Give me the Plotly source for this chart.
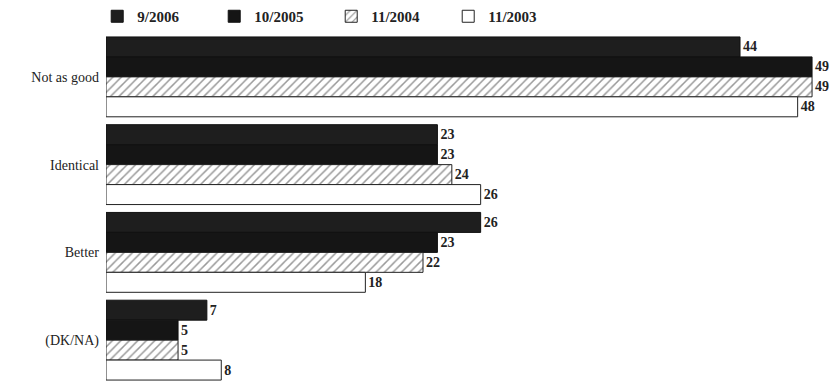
import plotly.graph_objects as go

categories = ["Not as good", "Identical", "Better", "(DK/NA)"]
series_names = ["9/2006", "10/2005", "11/2004", "11/2003"]
v_2006 = [44, 23, 26, 7]
v_2005 = [49, 23, 23, 5]
v_2004 = [49, 24, 22, 5]
v_2003 = [48, 26, 18, 8]

values = [v_2006, v_2005, v_2004, v_2003]
styles = [
    dict(color="#1e1e1e", line=dict(color="#111111", width=1)),
    dict(color="#151515", line=dict(color="#111111", width=1)),
    dict(color="white", line=dict(color="#222222", width=1),
         pattern=dict(shape="/", fgcolor="#333333", bgcolor="white", size=6, solidity=0.25)),
    dict(color="white", line=dict(color="#222222", width=1)),
]

fig = go.Figure()
for name, vals, st in zip(series_names, values, styles):
    fig.add_trace(go.Bar(
        y=categories, x=vals, name=name, orientation="h",
        marker=st, text=["<b>%d</b>" % v for v in vals], textposition="outside",
        textfont=dict(family="Liberation Serif", size=14, color="#222222"),
        cliponaxis=False,
    ))

fig.update_layout(
    width=838, height=384,
    margin=dict(l=106, r=0, t=33, b=0),
    paper_bgcolor="white", plot_bgcolor="white",
    barmode="group", bargap=0.09, bargroupgap=0,
    font=dict(family="Liberation Serif", size=13, color="#222222"),
    legend=dict(orientation="h", x=-0.012, xanchor="left", y=1.0, yanchor="bottom",
                entrywidth=72, font=dict(family="Liberation Serif", size=15, color="#222222", weight="bold"),
                itemwidth=30, traceorder="normal"),
    xaxis=dict(range=[0, 50.8], visible=False, showgrid=False),
    yaxis=dict(autorange="reversed", showgrid=False, showline=False, ticks="",
               tickfont=dict(family="Liberation Serif", size=14, color="#222222"),
               ticklabelstandoff=6),
    uniformtext=dict(mode=False),
)
fig.write_html("out.html")
